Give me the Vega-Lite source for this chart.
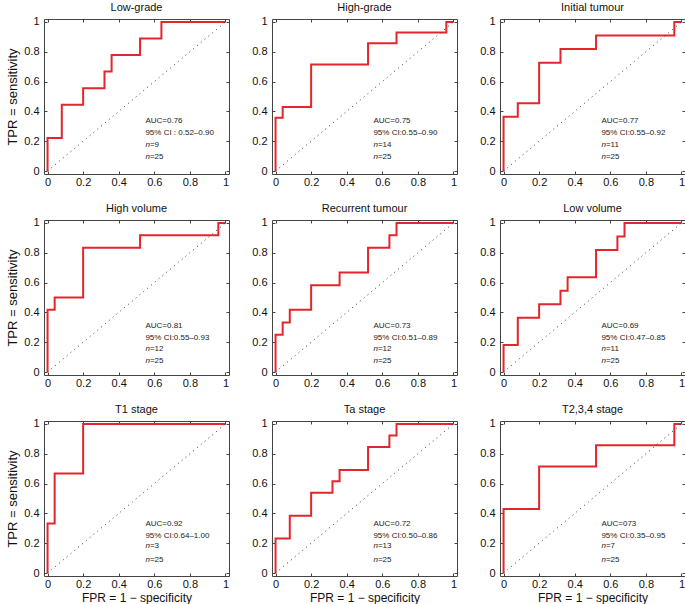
{
"$schema": "https://vega.github.io/schema/vega-lite/v6.json",
"padding": {"left": 6, "top": 1, "right": 0, "bottom": 2},
"background": "white",
"datasets": {
"roc": [
{"p":"Low-grade","i":0,"fpr":0,"tpr":0},{"p":"Low-grade","i":1,"fpr":0,"tpr":0.222},{"p":"Low-grade","i":2,"fpr":0.08,"tpr":0.444},{"p":"Low-grade","i":3,"fpr":0.2,"tpr":0.556},{"p":"Low-grade","i":4,"fpr":0.32,"tpr":0.667},{"p":"Low-grade","i":5,"fpr":0.36,"tpr":0.778},{"p":"Low-grade","i":6,"fpr":0.52,"tpr":0.889},{"p":"Low-grade","i":7,"fpr":0.64,"tpr":1},{"p":"Low-grade","i":8,"fpr":1,"tpr":1},
{"p":"High-grade","i":0,"fpr":0,"tpr":0},{"p":"High-grade","i":1,"fpr":0,"tpr":0.357},{"p":"High-grade","i":2,"fpr":0.04,"tpr":0.429},{"p":"High-grade","i":3,"fpr":0.2,"tpr":0.714},{"p":"High-grade","i":4,"fpr":0.52,"tpr":0.857},{"p":"High-grade","i":5,"fpr":0.68,"tpr":0.929},{"p":"High-grade","i":6,"fpr":0.96,"tpr":1},{"p":"High-grade","i":7,"fpr":1,"tpr":1},
{"p":"Initial tumour","i":0,"fpr":0,"tpr":0},{"p":"Initial tumour","i":1,"fpr":0,"tpr":0.364},{"p":"Initial tumour","i":2,"fpr":0.08,"tpr":0.455},{"p":"Initial tumour","i":3,"fpr":0.2,"tpr":0.727},{"p":"Initial tumour","i":4,"fpr":0.32,"tpr":0.818},{"p":"Initial tumour","i":5,"fpr":0.52,"tpr":0.909},{"p":"Initial tumour","i":6,"fpr":0.96,"tpr":1},{"p":"Initial tumour","i":7,"fpr":1,"tpr":1},
{"p":"High volume","i":0,"fpr":0,"tpr":0},{"p":"High volume","i":1,"fpr":0,"tpr":0.417},{"p":"High volume","i":2,"fpr":0.04,"tpr":0.5},{"p":"High volume","i":3,"fpr":0.2,"tpr":0.833},{"p":"High volume","i":4,"fpr":0.52,"tpr":0.917},{"p":"High volume","i":5,"fpr":0.96,"tpr":1},{"p":"High volume","i":6,"fpr":1,"tpr":1},
{"p":"Recurrent tumour","i":0,"fpr":0,"tpr":0},{"p":"Recurrent tumour","i":1,"fpr":0,"tpr":0.25},{"p":"Recurrent tumour","i":2,"fpr":0.04,"tpr":0.333},{"p":"Recurrent tumour","i":3,"fpr":0.08,"tpr":0.417},{"p":"Recurrent tumour","i":4,"fpr":0.2,"tpr":0.583},{"p":"Recurrent tumour","i":5,"fpr":0.36,"tpr":0.667},{"p":"Recurrent tumour","i":6,"fpr":0.52,"tpr":0.833},{"p":"Recurrent tumour","i":7,"fpr":0.64,"tpr":0.917},{"p":"Recurrent tumour","i":8,"fpr":0.68,"tpr":1},{"p":"Recurrent tumour","i":9,"fpr":1,"tpr":1},
{"p":"Low volume","i":0,"fpr":0,"tpr":0},{"p":"Low volume","i":1,"fpr":0,"tpr":0.182},{"p":"Low volume","i":2,"fpr":0.08,"tpr":0.364},{"p":"Low volume","i":3,"fpr":0.2,"tpr":0.455},{"p":"Low volume","i":4,"fpr":0.32,"tpr":0.545},{"p":"Low volume","i":5,"fpr":0.36,"tpr":0.636},{"p":"Low volume","i":6,"fpr":0.52,"tpr":0.818},{"p":"Low volume","i":7,"fpr":0.64,"tpr":0.909},{"p":"Low volume","i":8,"fpr":0.68,"tpr":1},{"p":"Low volume","i":9,"fpr":1,"tpr":1},
{"p":"T1 stage","i":0,"fpr":0,"tpr":0},{"p":"T1 stage","i":1,"fpr":0,"tpr":0.333},{"p":"T1 stage","i":2,"fpr":0.04,"tpr":0.667},{"p":"T1 stage","i":3,"fpr":0.2,"tpr":1},{"p":"T1 stage","i":4,"fpr":1,"tpr":1},
{"p":"Ta stage","i":0,"fpr":0,"tpr":0},{"p":"Ta stage","i":1,"fpr":0,"tpr":0.231},{"p":"Ta stage","i":2,"fpr":0.08,"tpr":0.385},{"p":"Ta stage","i":3,"fpr":0.2,"tpr":0.538},{"p":"Ta stage","i":4,"fpr":0.32,"tpr":0.615},{"p":"Ta stage","i":5,"fpr":0.36,"tpr":0.692},{"p":"Ta stage","i":6,"fpr":0.52,"tpr":0.846},{"p":"Ta stage","i":7,"fpr":0.64,"tpr":0.923},{"p":"Ta stage","i":8,"fpr":0.68,"tpr":1},{"p":"Ta stage","i":9,"fpr":1,"tpr":1},
{"p":"T2,3,4 stage","i":0,"fpr":0,"tpr":0},{"p":"T2,3,4 stage","i":1,"fpr":0,"tpr":0.429},{"p":"T2,3,4 stage","i":2,"fpr":0.2,"tpr":0.714},{"p":"T2,3,4 stage","i":3,"fpr":0.52,"tpr":0.857},{"p":"T2,3,4 stage","i":4,"fpr":0.96,"tpr":1},{"p":"T2,3,4 stage","i":5,"fpr":1,"tpr":1}
],
"info": [
{"p":"Low-grade","auc":"AUC=0.76","ci":"95% CI : 0.52–0.90","n1":"=9","n2":"=25"},
{"p":"High-grade","auc":"AUC=0.75","ci":"95% CI:0.55–0.90","n1":"=14","n2":"=25"},
{"p":"Initial tumour","auc":"AUC=0.77","ci":"95% CI:0.55–0.92","n1":"=11","n2":"=25"},
{"p":"High volume","auc":"AUC=0.81","ci":"95% CI:0.55–0.93","n1":"=12","n2":"=25"},
{"p":"Recurrent tumour","auc":"AUC=0.73","ci":"95% CI:0.51–0.89","n1":"=12","n2":"=25"},
{"p":"Low volume","auc":"AUC=0.69","ci":"95% CI:0.47–0.85","n1":"=11","n2":"=25"},
{"p":"T1 stage","auc":"AUC=0.92","ci":"95% CI:0.64–1.00","n1":"=3","n2":"=25"},
{"p":"Ta stage","auc":"AUC=0.72","ci":"95% CI:0.50–0.86","n1":"=13","n2":"=25"},
{"p":"T2,3,4 stage","auc":"AUC=073","ci":"95% CI:0.35–0.95","n1":"=7","n2":"=25"}
],
"one": [{}]
},
"columns": 3,
"spacing": {"row": 46, "column": 43},
"bounds": "flush",
"concat": [
{"title":"Low-grade","width":185,"height":155,"resolve":{"axis":{"x":"independent","y":"independent"}},"layer":[
 {"data":{"name":"roc"},"transform":[{"filter":"datum.p==='Low-grade'"}],"mark":{"type":"line","interpolate":"step-after","color":"#e3262d","strokeWidth":2},
  "encoding":{"x":{"field":"fpr","type":"quantitative","scale":{"domain":[-0.02,1.02],"nice":false},"axis":{"values":[0,0.2,0.4,0.6,0.8,1],"format":"~g","labelOverlap":false,"title":null}},
   "y":{"field":"tpr","type":"quantitative","scale":{"domain":[-0.02,1.02],"nice":false},"axis":{"values":[0,0.2,0.4,0.6,0.8,1],"format":"~g","labelOverlap":false,"title":"TPR = sensitivity"}},"order":{"field":"i"}}},
 {"data":{"name":"one"},"mark":{"type":"rule","strokeDash":[1,4],"color":"#333","strokeWidth":1},"encoding":{"x":{"datum":0,"axis":{"orient":"top","values":[0,0.2,0.4,0.6,0.8,1],"labels":false,"title":null}},"y":{"datum":0,"axis":{"orient":"right","values":[0,0.2,0.4,0.6,0.8,1],"labels":false,"title":null}},"x2":{"datum":1},"y2":{"datum":1}}},
 {"data":{"name":"info"},"transform":[{"filter":"datum.p==='Low-grade'"}],"encoding":{"x":{"datum":0.55,"axis":null}},"layer":[
  {"mark":{"type":"text","align":"left","fontSize":8},"encoding":{"y":{"datum":0.335,"axis":null},"text":{"field":"auc"}}},
  {"mark":{"type":"text","align":"left","fontSize":8},"encoding":{"y":{"datum":0.255,"axis":null},"text":{"field":"ci"}}},
  {"mark":{"type":"text","align":"left","fontSize":8,"fontStyle":"italic"},"encoding":{"y":{"datum":0.175,"axis":null},"text":{"value":"n"}}},
  {"mark":{"type":"text","align":"left","fontSize":8,"dx":4.5},"encoding":{"y":{"datum":0.175,"axis":null},"text":{"field":"n1"}}},
  {"mark":{"type":"text","align":"left","fontSize":8,"fontStyle":"italic"},"encoding":{"y":{"datum":0.095,"axis":null},"text":{"value":"n"}}},
  {"mark":{"type":"text","align":"left","fontSize":8,"dx":4.5},"encoding":{"y":{"datum":0.095,"axis":null},"text":{"field":"n2"}}}
 ]}
]},
{"title":"High-grade","width":185,"height":155,"resolve":{"axis":{"x":"independent","y":"independent"}},"layer":[
 {"data":{"name":"roc"},"transform":[{"filter":"datum.p==='High-grade'"}],"mark":{"type":"line","interpolate":"step-after","color":"#e3262d","strokeWidth":2},
  "encoding":{"x":{"field":"fpr","type":"quantitative","scale":{"domain":[-0.02,1.02],"nice":false},"axis":{"values":[0,0.2,0.4,0.6,0.8,1],"format":"~g","labelOverlap":false,"title":null}},
   "y":{"field":"tpr","type":"quantitative","scale":{"domain":[-0.02,1.02],"nice":false},"axis":{"values":[0,0.2,0.4,0.6,0.8,1],"format":"~g","labelOverlap":false,"title":null}},"order":{"field":"i"}}},
 {"data":{"name":"one"},"mark":{"type":"rule","strokeDash":[1,4],"color":"#333","strokeWidth":1},"encoding":{"x":{"datum":0,"axis":{"orient":"top","values":[0,0.2,0.4,0.6,0.8,1],"labels":false,"title":null}},"y":{"datum":0,"axis":{"orient":"right","values":[0,0.2,0.4,0.6,0.8,1],"labels":false,"title":null}},"x2":{"datum":1},"y2":{"datum":1}}},
 {"data":{"name":"info"},"transform":[{"filter":"datum.p==='High-grade'"}],"encoding":{"x":{"datum":0.55,"axis":null}},"layer":[
  {"mark":{"type":"text","align":"left","fontSize":8},"encoding":{"y":{"datum":0.335,"axis":null},"text":{"field":"auc"}}},
  {"mark":{"type":"text","align":"left","fontSize":8},"encoding":{"y":{"datum":0.255,"axis":null},"text":{"field":"ci"}}},
  {"mark":{"type":"text","align":"left","fontSize":8,"fontStyle":"italic"},"encoding":{"y":{"datum":0.175,"axis":null},"text":{"value":"n"}}},
  {"mark":{"type":"text","align":"left","fontSize":8,"dx":4.5},"encoding":{"y":{"datum":0.175,"axis":null},"text":{"field":"n1"}}},
  {"mark":{"type":"text","align":"left","fontSize":8,"fontStyle":"italic"},"encoding":{"y":{"datum":0.095,"axis":null},"text":{"value":"n"}}},
  {"mark":{"type":"text","align":"left","fontSize":8,"dx":4.5},"encoding":{"y":{"datum":0.095,"axis":null},"text":{"field":"n2"}}}
 ]}
]},
{"title":"Initial tumour","width":185,"height":155,"resolve":{"axis":{"x":"independent","y":"independent"}},"layer":[
 {"data":{"name":"roc"},"transform":[{"filter":"datum.p==='Initial tumour'"}],"mark":{"type":"line","interpolate":"step-after","color":"#e3262d","strokeWidth":2},
  "encoding":{"x":{"field":"fpr","type":"quantitative","scale":{"domain":[-0.02,1.02],"nice":false},"axis":{"values":[0,0.2,0.4,0.6,0.8,1],"format":"~g","labelOverlap":false,"title":null}},
   "y":{"field":"tpr","type":"quantitative","scale":{"domain":[-0.02,1.02],"nice":false},"axis":{"values":[0,0.2,0.4,0.6,0.8,1],"format":"~g","labelOverlap":false,"title":null}},"order":{"field":"i"}}},
 {"data":{"name":"one"},"mark":{"type":"rule","strokeDash":[1,4],"color":"#333","strokeWidth":1},"encoding":{"x":{"datum":0,"axis":{"orient":"top","values":[0,0.2,0.4,0.6,0.8,1],"labels":false,"title":null}},"y":{"datum":0,"axis":{"orient":"right","values":[0,0.2,0.4,0.6,0.8,1],"labels":false,"title":null}},"x2":{"datum":1},"y2":{"datum":1}}},
 {"data":{"name":"info"},"transform":[{"filter":"datum.p==='Initial tumour'"}],"encoding":{"x":{"datum":0.55,"axis":null}},"layer":[
  {"mark":{"type":"text","align":"left","fontSize":8},"encoding":{"y":{"datum":0.335,"axis":null},"text":{"field":"auc"}}},
  {"mark":{"type":"text","align":"left","fontSize":8},"encoding":{"y":{"datum":0.255,"axis":null},"text":{"field":"ci"}}},
  {"mark":{"type":"text","align":"left","fontSize":8,"fontStyle":"italic"},"encoding":{"y":{"datum":0.175,"axis":null},"text":{"value":"n"}}},
  {"mark":{"type":"text","align":"left","fontSize":8,"dx":4.5},"encoding":{"y":{"datum":0.175,"axis":null},"text":{"field":"n1"}}},
  {"mark":{"type":"text","align":"left","fontSize":8,"fontStyle":"italic"},"encoding":{"y":{"datum":0.095,"axis":null},"text":{"value":"n"}}},
  {"mark":{"type":"text","align":"left","fontSize":8,"dx":4.5},"encoding":{"y":{"datum":0.095,"axis":null},"text":{"field":"n2"}}}
 ]}
]},
{"title":"High volume","width":185,"height":155,"resolve":{"axis":{"x":"independent","y":"independent"}},"layer":[
 {"data":{"name":"roc"},"transform":[{"filter":"datum.p==='High volume'"}],"mark":{"type":"line","interpolate":"step-after","color":"#e3262d","strokeWidth":2},
  "encoding":{"x":{"field":"fpr","type":"quantitative","scale":{"domain":[-0.02,1.02],"nice":false},"axis":{"values":[0,0.2,0.4,0.6,0.8,1],"format":"~g","labelOverlap":false,"title":null}},
   "y":{"field":"tpr","type":"quantitative","scale":{"domain":[-0.02,1.02],"nice":false},"axis":{"values":[0,0.2,0.4,0.6,0.8,1],"format":"~g","labelOverlap":false,"title":"TPR = sensitivity"}},"order":{"field":"i"}}},
 {"data":{"name":"one"},"mark":{"type":"rule","strokeDash":[1,4],"color":"#333","strokeWidth":1},"encoding":{"x":{"datum":0,"axis":{"orient":"top","values":[0,0.2,0.4,0.6,0.8,1],"labels":false,"title":null}},"y":{"datum":0,"axis":{"orient":"right","values":[0,0.2,0.4,0.6,0.8,1],"labels":false,"title":null}},"x2":{"datum":1},"y2":{"datum":1}}},
 {"data":{"name":"info"},"transform":[{"filter":"datum.p==='High volume'"}],"encoding":{"x":{"datum":0.55,"axis":null}},"layer":[
  {"mark":{"type":"text","align":"left","fontSize":8},"encoding":{"y":{"datum":0.31,"axis":null},"text":{"field":"auc"}}},
  {"mark":{"type":"text","align":"left","fontSize":8},"encoding":{"y":{"datum":0.23,"axis":null},"text":{"field":"ci"}}},
  {"mark":{"type":"text","align":"left","fontSize":8,"fontStyle":"italic"},"encoding":{"y":{"datum":0.155,"axis":null},"text":{"value":"n"}}},
  {"mark":{"type":"text","align":"left","fontSize":8,"dx":4.5},"encoding":{"y":{"datum":0.155,"axis":null},"text":{"field":"n1"}}},
  {"mark":{"type":"text","align":"left","fontSize":8,"fontStyle":"italic"},"encoding":{"y":{"datum":0.075,"axis":null},"text":{"value":"n"}}},
  {"mark":{"type":"text","align":"left","fontSize":8,"dx":4.5},"encoding":{"y":{"datum":0.075,"axis":null},"text":{"field":"n2"}}}
 ]}
]},
{"title":"Recurrent tumour","width":185,"height":155,"resolve":{"axis":{"x":"independent","y":"independent"}},"layer":[
 {"data":{"name":"roc"},"transform":[{"filter":"datum.p==='Recurrent tumour'"}],"mark":{"type":"line","interpolate":"step-after","color":"#e3262d","strokeWidth":2},
  "encoding":{"x":{"field":"fpr","type":"quantitative","scale":{"domain":[-0.02,1.02],"nice":false},"axis":{"values":[0,0.2,0.4,0.6,0.8,1],"format":"~g","labelOverlap":false,"title":null}},
   "y":{"field":"tpr","type":"quantitative","scale":{"domain":[-0.02,1.02],"nice":false},"axis":{"values":[0,0.2,0.4,0.6,0.8,1],"format":"~g","labelOverlap":false,"title":null}},"order":{"field":"i"}}},
 {"data":{"name":"one"},"mark":{"type":"rule","strokeDash":[1,4],"color":"#333","strokeWidth":1},"encoding":{"x":{"datum":0,"axis":{"orient":"top","values":[0,0.2,0.4,0.6,0.8,1],"labels":false,"title":null}},"y":{"datum":0,"axis":{"orient":"right","values":[0,0.2,0.4,0.6,0.8,1],"labels":false,"title":null}},"x2":{"datum":1},"y2":{"datum":1}}},
 {"data":{"name":"info"},"transform":[{"filter":"datum.p==='Recurrent tumour'"}],"encoding":{"x":{"datum":0.55,"axis":null}},"layer":[
  {"mark":{"type":"text","align":"left","fontSize":8},"encoding":{"y":{"datum":0.31,"axis":null},"text":{"field":"auc"}}},
  {"mark":{"type":"text","align":"left","fontSize":8},"encoding":{"y":{"datum":0.23,"axis":null},"text":{"field":"ci"}}},
  {"mark":{"type":"text","align":"left","fontSize":8,"fontStyle":"italic"},"encoding":{"y":{"datum":0.155,"axis":null},"text":{"value":"n"}}},
  {"mark":{"type":"text","align":"left","fontSize":8,"dx":4.5},"encoding":{"y":{"datum":0.155,"axis":null},"text":{"field":"n1"}}},
  {"mark":{"type":"text","align":"left","fontSize":8,"fontStyle":"italic"},"encoding":{"y":{"datum":0.075,"axis":null},"text":{"value":"n"}}},
  {"mark":{"type":"text","align":"left","fontSize":8,"dx":4.5},"encoding":{"y":{"datum":0.075,"axis":null},"text":{"field":"n2"}}}
 ]}
]},
{"title":"Low volume","width":185,"height":155,"resolve":{"axis":{"x":"independent","y":"independent"}},"layer":[
 {"data":{"name":"roc"},"transform":[{"filter":"datum.p==='Low volume'"}],"mark":{"type":"line","interpolate":"step-after","color":"#e3262d","strokeWidth":2},
  "encoding":{"x":{"field":"fpr","type":"quantitative","scale":{"domain":[-0.02,1.02],"nice":false},"axis":{"values":[0,0.2,0.4,0.6,0.8,1],"format":"~g","labelOverlap":false,"title":null}},
   "y":{"field":"tpr","type":"quantitative","scale":{"domain":[-0.02,1.02],"nice":false},"axis":{"values":[0,0.2,0.4,0.6,0.8,1],"format":"~g","labelOverlap":false,"title":null}},"order":{"field":"i"}}},
 {"data":{"name":"one"},"mark":{"type":"rule","strokeDash":[1,4],"color":"#333","strokeWidth":1},"encoding":{"x":{"datum":0,"axis":{"orient":"top","values":[0,0.2,0.4,0.6,0.8,1],"labels":false,"title":null}},"y":{"datum":0,"axis":{"orient":"right","values":[0,0.2,0.4,0.6,0.8,1],"labels":false,"title":null}},"x2":{"datum":1},"y2":{"datum":1}}},
 {"data":{"name":"info"},"transform":[{"filter":"datum.p==='Low volume'"}],"encoding":{"x":{"datum":0.55,"axis":null}},"layer":[
  {"mark":{"type":"text","align":"left","fontSize":8},"encoding":{"y":{"datum":0.31,"axis":null},"text":{"field":"auc"}}},
  {"mark":{"type":"text","align":"left","fontSize":8},"encoding":{"y":{"datum":0.23,"axis":null},"text":{"field":"ci"}}},
  {"mark":{"type":"text","align":"left","fontSize":8,"fontStyle":"italic"},"encoding":{"y":{"datum":0.155,"axis":null},"text":{"value":"n"}}},
  {"mark":{"type":"text","align":"left","fontSize":8,"dx":4.5},"encoding":{"y":{"datum":0.155,"axis":null},"text":{"field":"n1"}}},
  {"mark":{"type":"text","align":"left","fontSize":8,"fontStyle":"italic"},"encoding":{"y":{"datum":0.075,"axis":null},"text":{"value":"n"}}},
  {"mark":{"type":"text","align":"left","fontSize":8,"dx":4.5},"encoding":{"y":{"datum":0.075,"axis":null},"text":{"field":"n2"}}}
 ]}
]},
{"title":"T1 stage","width":185,"height":155,"resolve":{"axis":{"x":"independent","y":"independent"}},"layer":[
 {"data":{"name":"roc"},"transform":[{"filter":"datum.p==='T1 stage'"}],"mark":{"type":"line","interpolate":"step-after","color":"#e3262d","strokeWidth":2},
  "encoding":{"x":{"field":"fpr","type":"quantitative","scale":{"domain":[-0.02,1.02],"nice":false},"axis":{"values":[0,0.2,0.4,0.6,0.8,1],"format":"~g","labelOverlap":false,"title":"FPR = 1 − specificity"}},
   "y":{"field":"tpr","type":"quantitative","scale":{"domain":[-0.02,1.02],"nice":false},"axis":{"values":[0,0.2,0.4,0.6,0.8,1],"format":"~g","labelOverlap":false,"title":"TPR = sensitivity"}},"order":{"field":"i"}}},
 {"data":{"name":"one"},"mark":{"type":"rule","strokeDash":[1,4],"color":"#333","strokeWidth":1},"encoding":{"x":{"datum":0,"axis":{"orient":"top","values":[0,0.2,0.4,0.6,0.8,1],"labels":false,"title":null}},"y":{"datum":0,"axis":{"orient":"right","values":[0,0.2,0.4,0.6,0.8,1],"labels":false,"title":null}},"x2":{"datum":1},"y2":{"datum":1}}},
 {"data":{"name":"info"},"transform":[{"filter":"datum.p==='T1 stage'"}],"encoding":{"x":{"datum":0.55,"axis":null}},"layer":[
  {"mark":{"type":"text","align":"left","fontSize":8},"encoding":{"y":{"datum":0.33,"axis":null},"text":{"field":"auc"}}},
  {"mark":{"type":"text","align":"left","fontSize":8},"encoding":{"y":{"datum":0.25,"axis":null},"text":{"field":"ci"}}},
  {"mark":{"type":"text","align":"left","fontSize":8,"fontStyle":"italic"},"encoding":{"y":{"datum":0.18,"axis":null},"text":{"value":"n"}}},
  {"mark":{"type":"text","align":"left","fontSize":8,"dx":4.5},"encoding":{"y":{"datum":0.18,"axis":null},"text":{"field":"n1"}}},
  {"mark":{"type":"text","align":"left","fontSize":8,"fontStyle":"italic"},"encoding":{"y":{"datum":0.085,"axis":null},"text":{"value":"n"}}},
  {"mark":{"type":"text","align":"left","fontSize":8,"dx":4.5},"encoding":{"y":{"datum":0.085,"axis":null},"text":{"field":"n2"}}}
 ]}
]},
{"title":"Ta stage","width":185,"height":155,"resolve":{"axis":{"x":"independent","y":"independent"}},"layer":[
 {"data":{"name":"roc"},"transform":[{"filter":"datum.p==='Ta stage'"}],"mark":{"type":"line","interpolate":"step-after","color":"#e3262d","strokeWidth":2},
  "encoding":{"x":{"field":"fpr","type":"quantitative","scale":{"domain":[-0.02,1.02],"nice":false},"axis":{"values":[0,0.2,0.4,0.6,0.8,1],"format":"~g","labelOverlap":false,"title":"FPR = 1 − specificity"}},
   "y":{"field":"tpr","type":"quantitative","scale":{"domain":[-0.02,1.02],"nice":false},"axis":{"values":[0,0.2,0.4,0.6,0.8,1],"format":"~g","labelOverlap":false,"title":null}},"order":{"field":"i"}}},
 {"data":{"name":"one"},"mark":{"type":"rule","strokeDash":[1,4],"color":"#333","strokeWidth":1},"encoding":{"x":{"datum":0,"axis":{"orient":"top","values":[0,0.2,0.4,0.6,0.8,1],"labels":false,"title":null}},"y":{"datum":0,"axis":{"orient":"right","values":[0,0.2,0.4,0.6,0.8,1],"labels":false,"title":null}},"x2":{"datum":1},"y2":{"datum":1}}},
 {"data":{"name":"info"},"transform":[{"filter":"datum.p==='Ta stage'"}],"encoding":{"x":{"datum":0.55,"axis":null}},"layer":[
  {"mark":{"type":"text","align":"left","fontSize":8},"encoding":{"y":{"datum":0.33,"axis":null},"text":{"field":"auc"}}},
  {"mark":{"type":"text","align":"left","fontSize":8},"encoding":{"y":{"datum":0.25,"axis":null},"text":{"field":"ci"}}},
  {"mark":{"type":"text","align":"left","fontSize":8,"fontStyle":"italic"},"encoding":{"y":{"datum":0.18,"axis":null},"text":{"value":"n"}}},
  {"mark":{"type":"text","align":"left","fontSize":8,"dx":4.5},"encoding":{"y":{"datum":0.18,"axis":null},"text":{"field":"n1"}}},
  {"mark":{"type":"text","align":"left","fontSize":8,"fontStyle":"italic"},"encoding":{"y":{"datum":0.085,"axis":null},"text":{"value":"n"}}},
  {"mark":{"type":"text","align":"left","fontSize":8,"dx":4.5},"encoding":{"y":{"datum":0.085,"axis":null},"text":{"field":"n2"}}}
 ]}
]},
{"title":"T2,3,4 stage","width":185,"height":155,"resolve":{"axis":{"x":"independent","y":"independent"}},"layer":[
 {"data":{"name":"roc"},"transform":[{"filter":"datum.p==='T2,3,4 stage'"}],"mark":{"type":"line","interpolate":"step-after","color":"#e3262d","strokeWidth":2},
  "encoding":{"x":{"field":"fpr","type":"quantitative","scale":{"domain":[-0.02,1.02],"nice":false},"axis":{"values":[0,0.2,0.4,0.6,0.8,1],"format":"~g","labelOverlap":false,"title":"FPR = 1 − specificity"}},
   "y":{"field":"tpr","type":"quantitative","scale":{"domain":[-0.02,1.02],"nice":false},"axis":{"values":[0,0.2,0.4,0.6,0.8,1],"format":"~g","labelOverlap":false,"title":null}},"order":{"field":"i"}}},
 {"data":{"name":"one"},"mark":{"type":"rule","strokeDash":[1,4],"color":"#333","strokeWidth":1},"encoding":{"x":{"datum":0,"axis":{"orient":"top","values":[0,0.2,0.4,0.6,0.8,1],"labels":false,"title":null}},"y":{"datum":0,"axis":{"orient":"right","values":[0,0.2,0.4,0.6,0.8,1],"labels":false,"title":null}},"x2":{"datum":1},"y2":{"datum":1}}},
 {"data":{"name":"info"},"transform":[{"filter":"datum.p==='T2,3,4 stage'"}],"encoding":{"x":{"datum":0.55,"axis":null}},"layer":[
  {"mark":{"type":"text","align":"left","fontSize":8},"encoding":{"y":{"datum":0.33,"axis":null},"text":{"field":"auc"}}},
  {"mark":{"type":"text","align":"left","fontSize":8},"encoding":{"y":{"datum":0.25,"axis":null},"text":{"field":"ci"}}},
  {"mark":{"type":"text","align":"left","fontSize":8,"fontStyle":"italic"},"encoding":{"y":{"datum":0.18,"axis":null},"text":{"value":"n"}}},
  {"mark":{"type":"text","align":"left","fontSize":8,"dx":4.5},"encoding":{"y":{"datum":0.18,"axis":null},"text":{"field":"n1"}}},
  {"mark":{"type":"text","align":"left","fontSize":8,"fontStyle":"italic"},"encoding":{"y":{"datum":0.085,"axis":null},"text":{"value":"n"}}},
  {"mark":{"type":"text","align":"left","fontSize":8,"dx":4.5},"encoding":{"y":{"datum":0.085,"axis":null},"text":{"field":"n2"}}}
 ]}
]}
],
"config": {
 "font": "Liberation Sans",
 "view": {"stroke": "#444", "strokeWidth": 1},
 "axis": {"grid": false, "domain": false, "tickSize": -3, "tickColor": "#444", "labelPadding": 7, "labelFontSize": 11, "labelColor": "#111", "titleFontSize": 12, "titleFontWeight": "normal", "titleColor": "#111", "labelFlush": false, "labelOverlap": false},
 "axisY": {"titleFontSize": 13, "titlePadding": 4, "labelPadding": 8},
 "axisX": {"titlePadding": 3, "labelPadding": 5},
 "title": {"fontSize": 11, "fontWeight": "normal", "color": "#111", "offset": 3},
 "text": {"color": "#222"}
}
}
